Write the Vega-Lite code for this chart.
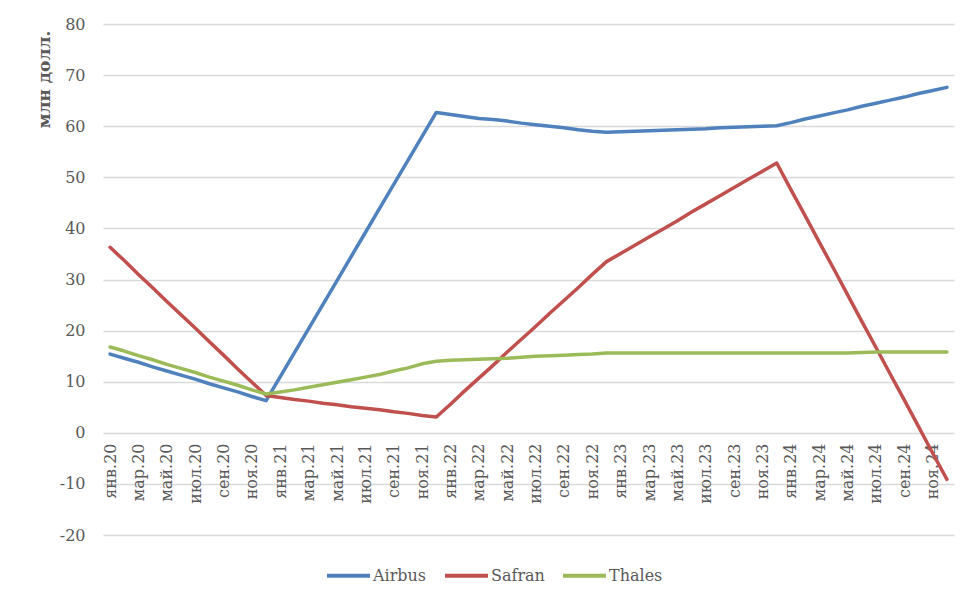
{
  "$schema": "https://vega.github.io/schema/vega-lite/v6.json",
  "description": "Airbus, Safran, Thales, млн долл., 2020-2024",
  "width": 851,
  "height": 511,
  "autosize": "none",
  "padding": {"left": 103, "top": 24, "right": 23, "bottom": 71},
  "data": {
    "values": [
      {"month": "янв.20", "Airbus": 15.4, "Safran": 36.3, "Thales": 16.8},
      {"month": "фев.20", "Airbus": 14.6, "Safran": 33.7, "Thales": 16.0},
      {"month": "мар.20", "Airbus": 13.8, "Safran": 31.0, "Thales": 15.1},
      {"month": "апр.20", "Airbus": 12.9, "Safran": 28.4, "Thales": 14.3},
      {"month": "май.20", "Airbus": 12.1, "Safran": 25.7, "Thales": 13.4},
      {"month": "июн.20", "Airbus": 11.3, "Safran": 23.1, "Thales": 12.6},
      {"month": "июл.20", "Airbus": 10.5, "Safran": 20.5, "Thales": 11.8},
      {"month": "авг.20", "Airbus": 9.6, "Safran": 17.8, "Thales": 10.9},
      {"month": "сен.20", "Airbus": 8.8, "Safran": 15.2, "Thales": 10.1},
      {"month": "окт.20", "Airbus": 8.0, "Safran": 12.5, "Thales": 9.3},
      {"month": "ноя.20", "Airbus": 7.1, "Safran": 9.9, "Thales": 8.4},
      {"month": "дек.20", "Airbus": 6.3, "Safran": 7.3, "Thales": 7.6},
      {"month": "янв.21", "Airbus": 11.0, "Safran": 6.9, "Thales": 8.0},
      {"month": "фев.21", "Airbus": 15.7, "Safran": 6.5, "Thales": 8.4},
      {"month": "мар.21", "Airbus": 20.4, "Safran": 6.2, "Thales": 8.9},
      {"month": "апр.21", "Airbus": 25.1, "Safran": 5.8, "Thales": 9.4},
      {"month": "май.21", "Airbus": 29.8, "Safran": 5.5, "Thales": 9.9},
      {"month": "июн.21", "Airbus": 34.5, "Safran": 5.1, "Thales": 10.4},
      {"month": "июл.21", "Airbus": 39.2, "Safran": 4.8, "Thales": 10.9},
      {"month": "авг.21", "Airbus": 43.9, "Safran": 4.5, "Thales": 11.4},
      {"month": "сен.21", "Airbus": 48.6, "Safran": 4.1, "Thales": 12.1},
      {"month": "окт.21", "Airbus": 53.3, "Safran": 3.8, "Thales": 12.7},
      {"month": "ноя.21", "Airbus": 58.0, "Safran": 3.4, "Thales": 13.5},
      {"month": "дек.21", "Airbus": 62.7, "Safran": 3.1, "Thales": 14.0},
      {"month": "янв.22", "Airbus": 62.3, "Safran": 5.6, "Thales": 14.2},
      {"month": "фев.22", "Airbus": 61.9, "Safran": 8.2, "Thales": 14.3},
      {"month": "мар.22", "Airbus": 61.5, "Safran": 10.7, "Thales": 14.4},
      {"month": "апр.22", "Airbus": 61.3, "Safran": 13.2, "Thales": 14.5},
      {"month": "май.22", "Airbus": 61.0, "Safran": 15.8, "Thales": 14.6},
      {"month": "июн.22", "Airbus": 60.6, "Safran": 18.3, "Thales": 14.8},
      {"month": "июл.22", "Airbus": 60.3, "Safran": 20.8, "Thales": 15.0},
      {"month": "авг.22", "Airbus": 60.0, "Safran": 23.4, "Thales": 15.1},
      {"month": "сен.22", "Airbus": 59.7, "Safran": 25.9, "Thales": 15.2},
      {"month": "окт.22", "Airbus": 59.3, "Safran": 28.4, "Thales": 15.3},
      {"month": "ноя.22", "Airbus": 59.0, "Safran": 31.0, "Thales": 15.4},
      {"month": "дек.22", "Airbus": 58.8, "Safran": 33.5, "Thales": 15.6},
      {"month": "янв.23", "Airbus": 58.9, "Safran": 35.1, "Thales": 15.6},
      {"month": "фев.23", "Airbus": 59.0, "Safran": 36.7, "Thales": 15.6},
      {"month": "мар.23", "Airbus": 59.1, "Safran": 38.3, "Thales": 15.6},
      {"month": "апр.23", "Airbus": 59.2, "Safran": 39.9, "Thales": 15.6},
      {"month": "май.23", "Airbus": 59.3, "Safran": 41.5, "Thales": 15.6},
      {"month": "июн.23", "Airbus": 59.4, "Safran": 43.2, "Thales": 15.6},
      {"month": "июл.23", "Airbus": 59.5, "Safran": 44.8, "Thales": 15.6},
      {"month": "авг.23", "Airbus": 59.7, "Safran": 46.4, "Thales": 15.6},
      {"month": "сен.23", "Airbus": 59.8, "Safran": 48.0, "Thales": 15.6},
      {"month": "окт.23", "Airbus": 59.9, "Safran": 49.6, "Thales": 15.6},
      {"month": "ноя.23", "Airbus": 60.0, "Safran": 51.2, "Thales": 15.6},
      {"month": "дек.23", "Airbus": 60.1, "Safran": 52.8, "Thales": 15.6},
      {"month": "янв.24", "Airbus": 60.7, "Safran": 47.6, "Thales": 15.6},
      {"month": "фев.24", "Airbus": 61.4, "Safran": 42.5, "Thales": 15.6},
      {"month": "мар.24", "Airbus": 62.0, "Safran": 37.3, "Thales": 15.6},
      {"month": "апр.24", "Airbus": 62.6, "Safran": 32.2, "Thales": 15.6},
      {"month": "май.24", "Airbus": 63.2, "Safran": 27.0, "Thales": 15.6},
      {"month": "июн.24", "Airbus": 63.9, "Safran": 21.8, "Thales": 15.7},
      {"month": "июл.24", "Airbus": 64.5, "Safran": 16.7, "Thales": 15.8},
      {"month": "авг.24", "Airbus": 65.1, "Safran": 11.5, "Thales": 15.8},
      {"month": "сен.24", "Airbus": 65.7, "Safran": 6.4, "Thales": 15.8},
      {"month": "окт.24", "Airbus": 66.4, "Safran": 1.2, "Thales": 15.8},
      {"month": "ноя.24", "Airbus": 67.0, "Safran": -4.0, "Thales": 15.8},
      {"month": "дек.24", "Airbus": 67.6, "Safran": -9.1, "Thales": 15.8}
    ]
  },
  "transform": [
    {"fold": ["Airbus", "Safran", "Thales"], "as": ["company", "value"]}
  ],
  "mark": {"type": "line", "strokeWidth": 3.5, "strokeCap": "round", "strokeJoin": "round"},
  "encoding": {
    "x": {
      "field": "month",
      "type": "ordinal",
      "sort": null,
      "scale": {"type": "point", "padding": 0.5},
      "axis": {
        "title": null,
        "values": [
          "янв.20", "мар.20", "май.20", "июл.20", "сен.20", "ноя.20",
          "янв.21", "мар.21", "май.21", "июл.21", "сен.21", "ноя.21",
          "янв.22", "мар.22", "май.22", "июл.22", "сен.22", "ноя.22",
          "янв.23", "мар.23", "май.23", "июл.23", "сен.23", "ноя.23",
          "янв.24", "мар.24", "май.24", "июл.24", "сен.24", "ноя.24"
        ],
        "labelAngle": -90,
        "labelAlign": "right",
        "labelBaseline": "middle",
        "labelPadding": 10,
        "offset": -102,
        "ticks": false,
        "domain": false,
        "grid": false
      }
    },
    "y": {
      "field": "value",
      "type": "quantitative",
      "scale": {"domain": [-20, 80], "nice": false, "zero": false},
      "axis": {
        "values": [-20, -10, 0, 10, 20, 30, 40, 50, 60, 70, 80],
        "labelExpr": "datum.value < 0 ? '-' + abs(datum.value) : datum.label",
        "title": "млн долл.",
        "titleFontWeight": "bold",
        "titleFontSize": 17,
        "titleColor": "#595959",
        "titleAngle": -90,
        "titleX": -59,
        "titleY": 55,
        "titleAlign": "center",
        "titleBaseline": "middle",
        "ticks": false,
        "domain": false,
        "labelPadding": 18
      }
    },
    "color": {
      "field": "company",
      "type": "nominal",
      "scale": {
        "domain": ["Airbus", "Safran", "Thales"],
        "range": ["#4F81BD", "#C0504D", "#9BBB59"]
      },
      "legend": {
        "title": null,
        "orient": "none",
        "direction": "horizontal",
        "legendX": 222,
        "legendY": 528,
        "symbolType": "stroke",
        "symbolSize": 1849,
        "symbolStrokeWidth": 4,
        "labelOffset": 1,
        "columnPadding": 10
      }
    }
  },
  "config": {
    "font": "DejaVu Serif",
    "view": {"stroke": null},
    "axis": {
      "labelFont": "DejaVu Serif",
      "labelFontSize": 16,
      "labelColor": "#595959",
      "titleFont": "DejaVu Serif",
      "gridColor": "#d9d9d9",
      "gridWidth": 1.5
    },
    "legend": {
      "labelFont": "DejaVu Serif",
      "labelFontSize": 16,
      "labelColor": "#595959"
    }
  }
}
